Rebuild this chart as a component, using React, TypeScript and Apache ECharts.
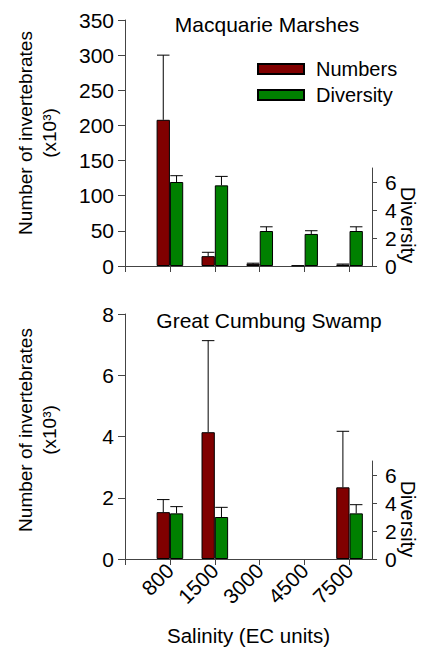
import React, { useEffect, useRef } from "react";
import * as echarts from "echarts";

// ---- data ----
const categories = ["800", "1500", "3000", "4500", "7500"];
const catPos = [1, 2, 3, 4, 5];

// Macquarie Marshes
const mmNumbers = [208, 14, 3, 0.8, 2];
const mmNumbersUpper = [300, 19.5, 4, null, 2.8];
const mmDiversity = [6.0, 5.76, 2.5, 2.29, 2.5];
const mmDiversityUpper = [6.45, 6.4, 2.8, 2.52, 2.8];

// Great Cumbung Swamp
const gcNumbers = [1.53, 4.14, null, null, 2.34];
const gcNumbersUpper = [1.94, 7.13, null, null, 4.17];
const gcDiversity = [3.26, 3.0, null, null, 3.26];
const gcDiversityUpper = [3.74, 3.69, null, null, 3.88];

const mmNumberTicks = [0, 350, 50];
const gcNumberTicks = [0, 8, 2];
const diversityRange = [0, 7];
const diversityTickValues = [0, 2, 4, 6];

const FONT = "'Liberation Sans', Arial, sans-serif";
const RED = "#800000";
const GREEN = "#008000";
const AXIS = "#444";
const BAR_W = 13.3;
const CAP = 12.5;

function pairs(vals: (number | null)[]) {
  return vals
    .map((v, i) => (v == null ? null : [catPos[i], v]))
    .filter((d) => d !== null);
}
function triples(vals: (number | null)[], up: (number | null)[]) {
  return vals
    .map((v, i) => (v == null || up[i] == null ? null : [catPos[i], v, up[i]]))
    .filter((d) => d !== null);
}

function errRender(dx: number) {
  return (params: any, api: any) => {
    const x = api.value(0);
    const v = api.value(1);
    const hi = api.value(2);
    const base = api.coord([x, v]);
    const top = api.coord([x, hi]);
    const cx = base[0] + dx;
    return {
      type: "group",
      children: [
        {
          type: "line",
          shape: { x1: cx, y1: base[1], x2: cx, y2: top[1] },
          style: { stroke: "#000", lineWidth: 1 },
        },
        {
          type: "line",
          shape: { x1: cx - CAP / 2, y1: top[1], x2: cx + CAP / 2, y2: top[1] },
          style: { stroke: "#000", lineWidth: 1 },
        },
      ],
    };
  };
}

export default function App() {
  const ref = useRef<HTMLDivElement>(null);
  useEffect(() => {
    if (!ref.current) return;
    const chart = echarts.init(ref.current, undefined, { renderer: "svg" });

    const gridLeft = 125;
    const gridRight = 54;
    const g = { left: gridLeft, right: gridRight, containLabel: false, outerBoundsMode: "none" };
    const grids = [
      { ...g, top: 20, height: 246 },
      { ...g, top: 168, height: 98 },
      { ...g, top: 314, height: 245 },
      { ...g, top: 461, height: 98 },
    ];

    const baseX = (gridIndex: number, visible: boolean, labels: boolean) => ({
      type: "value",
      gridIndex,
      min: 0,
      max: 5.5,
      interval: 1,
      show: visible,
      splitLine: { show: false },
      axisLine: { show: visible, onZero: false, lineStyle: { color: AXIS, width: 1 } },
      axisTick: {
        show: visible,
        length: 6,
        customValues: [0, ...catPos],
        lineStyle: { color: AXIS },
      },
      axisLabel: {
        show: labels,
        customValues: catPos,
        rotate: 45,
        margin: 8,
        fontSize: 21,
        fontFamily: FONT,
        color: "#000",
        formatter: (v: number) => {
          const i = catPos.indexOf(v);
          return i >= 0 ? categories[i] : "";
        },
      },
      ...(labels
        ? {
            name: "Salinity (EC units)",
            nameLocation: "middle",
            nameGap: 66,
            nameTextStyle: { fontSize: 20.5, lineHeight: 21, fontFamily: FONT, color: "#000" },
          }
        : {}),
    });

    const numY = (gridIndex: number, t: number[], shift: number) => ({
      type: "value",
      gridIndex,
      position: "left",
      min: t[0],
      max: t[1],
      interval: t[2],
      splitLine: { show: false },
      axisLine: { show: true, onZero: false, lineStyle: { color: AXIS, width: 1 } },
      axisTick: { show: true, length: 7, lineStyle: { color: AXIS } },
      axisLabel: { fontSize: 21, fontFamily: FONT, color: "#000", margin: 11 },
      name: "Number of invertebrates\n(x10\u00B3)",
      nameLocation: "middle",
      nameRotate: 90,
      nameGap: 64,
      nameTextStyle: {
        fontSize: 19,
        fontFamily: FONT,
        color: "#000",
        lineHeight: 24,
        align: "center",
        padding: [0, 0, 0, shift],
      },
    });

    const divY = (gridIndex: number) => ({
      type: "value",
      gridIndex,
      position: "right",
      min: diversityRange[0],
      max: diversityRange[1],
      interval: 2,
      splitLine: { show: false },
      minorTick: { show: false },
      axisLine: { show: true, onZero: false, lineStyle: { color: AXIS, width: 1 } },
      axisTick: { show: true, inside: false, length: 5, customValues: diversityTickValues, lineStyle: { color: AXIS } },
      axisLabel: {
        fontSize: 21,
        fontFamily: FONT,
        color: "#000",
        margin: 13,
        customValues: diversityTickValues,
      },
    });

    const barItem = (c: string) => ({ color: c, borderColor: "#000", borderWidth: 1 });

    const series: any[] = [];
    const addPanel = (
      nums: (number | null)[],
      numsUp: (number | null)[],
      divs: (number | null)[],
      divsUp: (number | null)[],
      numAxis: number,
      divAxis: number
    ) => {
      series.push(
        {
          name: "Numbers",
          type: "bar",
          xAxisIndex: numAxis,
          yAxisIndex: numAxis,
          barWidth: BAR_W,
          barGap: "0%",
          itemStyle: barItem(RED),
          data: pairs(nums),
        },
        {
          name: "_slotDiv" + numAxis,
          type: "bar",
          xAxisIndex: numAxis,
          yAxisIndex: numAxis,
          barWidth: BAR_W,
          barGap: "0%",
          data: [],
        },
        {
          name: "_slotNum" + divAxis,
          type: "bar",
          xAxisIndex: divAxis,
          yAxisIndex: divAxis,
          barWidth: BAR_W,
          barGap: "0%",
          data: [],
        },
        {
          name: "Diversity",
          type: "bar",
          xAxisIndex: divAxis,
          yAxisIndex: divAxis,
          barWidth: BAR_W,
          barGap: "0%",
          itemStyle: barItem(GREEN),
          data: pairs(divs),
        },
        {
          name: "_errNum" + numAxis,
          type: "custom",
          xAxisIndex: numAxis,
          yAxisIndex: numAxis,
          clip: false,
          renderItem: errRender(-BAR_W / 2),
          encode: { x: 0, y: [1, 2] },
          data: triples(nums, numsUp),
          z: 3,
        },
        {
          name: "_errDiv" + divAxis,
          type: "custom",
          xAxisIndex: divAxis,
          yAxisIndex: divAxis,
          clip: false,
          renderItem: errRender(BAR_W / 2),
          encode: { x: 0, y: [1, 2] },
          data: triples(divs, divsUp),
          z: 3,
        }
      );
    };
    addPanel(mmNumbers, mmNumbersUpper, mmDiversity, mmDiversityUpper, 0, 1);
    addPanel(gcNumbers, gcNumbersUpper, gcDiversity, gcDiversityUpper, 2, 3);

    const divName = (y: number) => ({
      type: "text",
      x: 408,
      y,
      rotation: -Math.PI / 2,
      style: {
        text: "Diversity",
        align: "center",
        verticalAlign: "middle",
        fontSize: 20,
        fontFamily: FONT,
        fill: "#000",
      },
    });

    chart.setOption({
      animation: false,
      backgroundColor: "#fff",
      grid: grids,
      xAxis: [baseX(0, true, false), baseX(1, false, false), baseX(2, true, true), baseX(3, false, false)],
      yAxis: [numY(0, mmNumberTicks, 20), divY(1), numY(2, gcNumberTicks, 13), divY(3)],
      legend: {
        data: ["Numbers", "Diversity"],
        orient: "vertical",
        left: 257,
        top: 59,
        padding: 0,
        itemWidth: 46,
        itemHeight: 10,
        itemGap: 6,
        icon: "rect",
        textStyle: { fontSize: 20, fontFamily: FONT, color: "#000", padding: [0, 0, 0, 7] },
      },
      graphic: [
        {
          type: "text",
          x: 267,
          y: 24,
          style: { text: "Macquarie Marshes", align: "center", verticalAlign: "middle", fontSize: 21, fontFamily: FONT, fill: "#000" },
        },
        {
          type: "text",
          x: 269,
          y: 320,
          style: { text: "Great Cumbung Swamp", align: "center", verticalAlign: "middle", fontSize: 21, fontFamily: FONT, fill: "#000" },
        },
        divName(225),
        divName(519),
      ],
      series,
    });
    return () => chart.dispose();
  }, []);
  return <div ref={ref} style={{ position: "fixed", left: 0, top: 0, width: 426, height: 647 }} />;
}
